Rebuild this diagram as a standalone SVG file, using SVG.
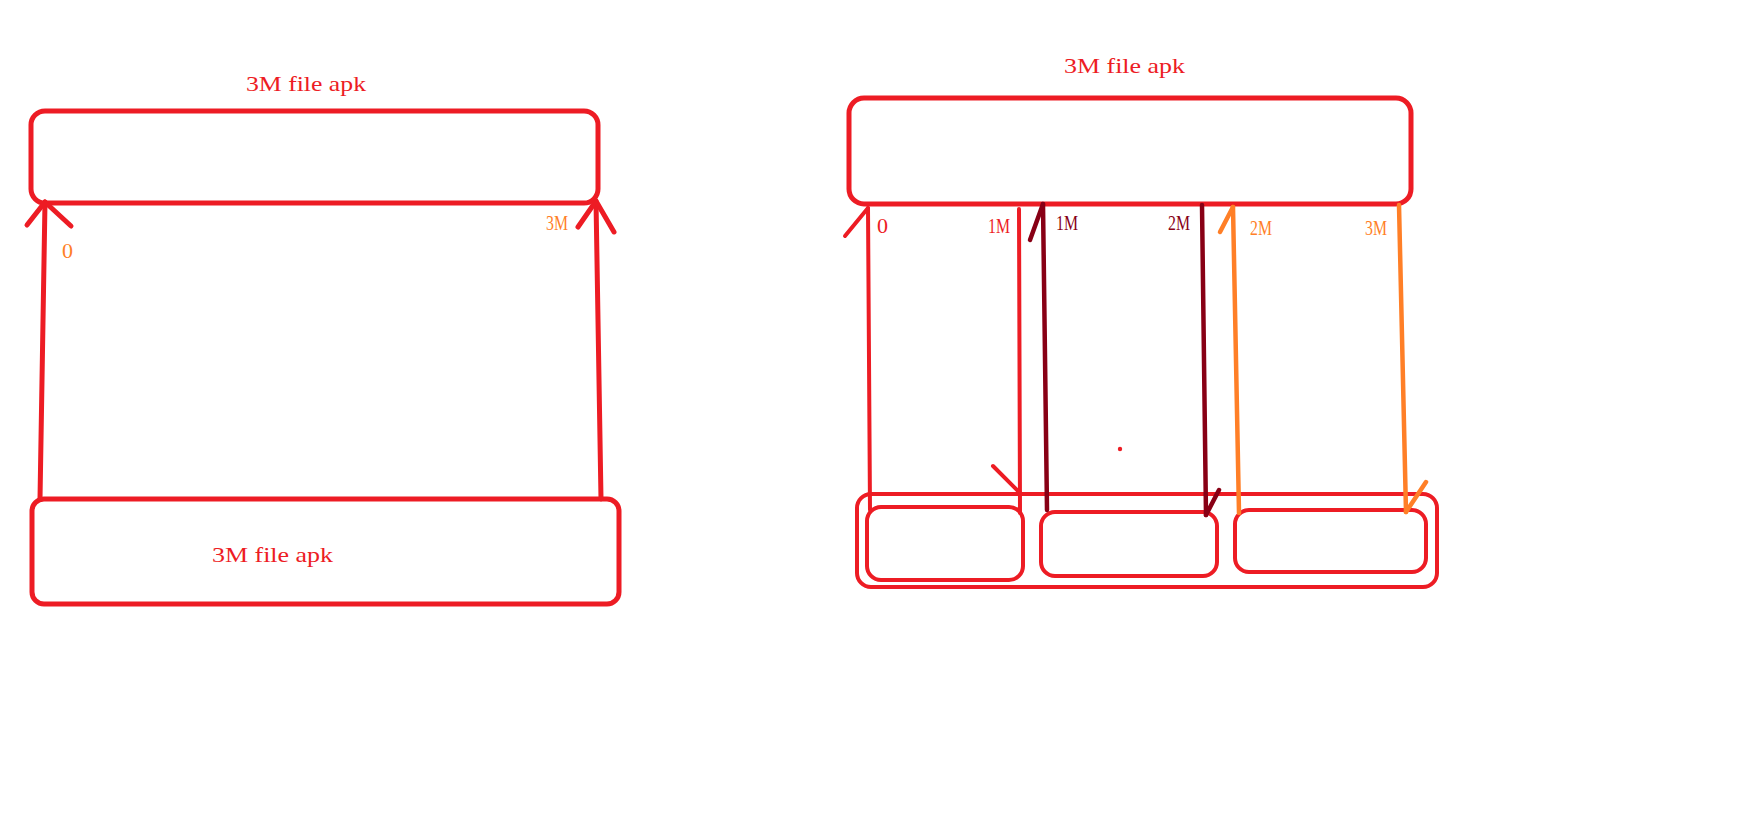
<svg xmlns="http://www.w3.org/2000/svg" width="1754" height="825" viewBox="0 0 1754 825">
<style>
.box{fill:none;stroke:#ED1C24;stroke-width:5}
.sub{fill:none;stroke:#ED1C24;stroke-width:4}
.red{fill:none;stroke:#ED1C24;stroke-width:5;stroke-linecap:round;stroke-linejoin:round}
.red4{fill:none;stroke:#ED1C24;stroke-width:4;stroke-linecap:round;stroke-linejoin:round}
.dark{fill:none;stroke:#880015;stroke-width:4.5;stroke-linecap:round;stroke-linejoin:round}
.orange{fill:none;stroke:#FF7F27;stroke-width:4.5;stroke-linecap:round;stroke-linejoin:round}
text{font-family:"Liberation Serif","DejaVu Serif",serif;font-size:21px}
.tr{fill:#ED1C24}
.to{fill:#FF7F27}
.td{fill:#880015}
</style>
<rect width="1754" height="825" fill="#ffffff"/>

<!-- Left diagram -->
<g id="left-top-file">
<text class="tr" x="246" y="91" textLength="120" lengthAdjust="spacingAndGlyphs">3M file apk</text>
<rect class="box" x="31" y="111" width="567" height="92" rx="14"/>
</g>
<g id="left-bottom-file">
<rect class="box" x="32" y="499" width="587" height="105" rx="12"/>
<text class="tr" x="212" y="562" textLength="121" lengthAdjust="spacingAndGlyphs">3M file apk</text>
</g>
<g id="left-labels">
<text class="to" x="62" y="258" textLength="11" lengthAdjust="spacingAndGlyphs">0</text>
<text class="to" x="546" y="230" textLength="22" lengthAdjust="spacingAndGlyphs">3M</text>
</g>

<!-- Right diagram -->
<g id="right-top-file">
<text class="tr" x="1064" y="73" textLength="121" lengthAdjust="spacingAndGlyphs">3M file apk</text>
<rect class="box" x="849" y="98" width="562" height="106" rx="15"/>
</g>
<g id="right-container">
<rect class="sub" x="857" y="494" width="580" height="93" rx="14"/>
</g>
<g id="part-1">
<rect class="sub" x="867" y="507" width="156" height="73" rx="14"/>
</g>
<g id="part-2">
<rect class="sub" x="1041" y="512" width="176" height="64" rx="14"/>
</g>
<g id="part-3">
<rect class="sub" x="1235" y="510" width="191" height="62" rx="14"/>
</g>
<g id="right-labels">
<text class="tr" x="877" y="233" textLength="11" lengthAdjust="spacingAndGlyphs">0</text>
<text class="tr" x="988" y="233" textLength="22" lengthAdjust="spacingAndGlyphs">1M</text>
<text class="td" x="1056" y="230" textLength="22" lengthAdjust="spacingAndGlyphs">1M</text>
<text class="td" x="1168" y="230" textLength="22" lengthAdjust="spacingAndGlyphs">2M</text>
<text class="to" x="1250" y="235" textLength="22" lengthAdjust="spacingAndGlyphs">2M</text>
<text class="to" x="1365" y="235" textLength="22" lengthAdjust="spacingAndGlyphs">3M</text>
<circle cx="1120" cy="449" r="2.2" fill="#ED1C24"/>
</g>

<g id="connectors">
<!-- left diagram -->
<path class="red" d="M40,499 L45,202"/>
<path class="red" d="M27,225 L45,202 L71,226"/>
<path class="red" d="M601,499 L596,201"/>
<path class="red" d="M578,227 L596,201 L614,232"/>
<!-- right diagram -->
<path class="red4" d="M870,510 L868,208"/>
<path class="red4" d="M845,236 L868,208"/>
<path class="red4" d="M1019,209 L1020,513"/>
<path class="red4" d="M993,466 L1020,493"/>
<path class="dark" d="M1047,510 L1043,204"/>
<path class="dark" d="M1030,240 L1043,204"/>
<path class="dark" d="M1202,205 L1206,515"/>
<path class="dark" d="M1219,490 L1206,515"/>
<path class="orange" d="M1239,513 L1233,207"/>
<path class="orange" d="M1220,232 L1233,207"/>
<path class="orange" d="M1399,205 L1406,512"/>
<path class="orange" d="M1426,482 L1406,512"/>
</g>
</svg>
